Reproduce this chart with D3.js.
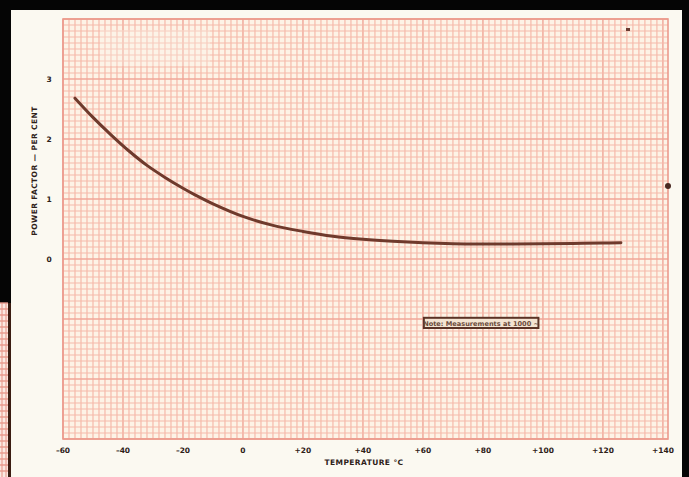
<!DOCTYPE html>
<html>
<head>
<meta charset="utf-8">
<script src="https://cdn.jsdelivr.net/npm/d3@7"></script>
<style>
  html, body { margin: 0; padding: 0; background: #000; }
  svg { display: block; }
  text { font-family: "DejaVu Sans", "Liberation Sans", sans-serif; }
</style>
</head>
<body>
<svg id="chart" width="689" height="477"></svg>
<script>
// ---- data ----
const temperatures = [-56, -50, -44, -38, -32, -26, -20, -16, -10, 0, 10, 20, 30, 40, 50, 60, 70, 80, 90, 100, 110, 120, 126];
const powerFactor  = [2.68, 2.36, 2.07, 1.80, 1.56, 1.36, 1.18, 1.07, 0.92, 0.71, 0.56, 0.46, 0.38, 0.33, 0.295, 0.27, 0.255, 0.25, 0.25, 0.255, 0.26, 0.265, 0.27];
const xTickValues = [-60, -40, -20, 0, 20, 40, 60, 80, 100, 120, 140];
const xTickLabels = ["\u201360", "\u201340", "\u201320", "0", "+20", "+40", "+60", "+80", "+100", "+120", "+140"];
const yTickValues = [0, 1, 2, 3];
const yTickLabels = ["0", "1", "2", "3"];
const xTitle = "TEMPERATURE \u00B0C";
const yTitle = "POWER FACTOR \u2014 PER CENT";
const noteText = "Note: Measurements at 1000 \u223C";

const svg = d3.select("#chart");
const W = 689, H = 477;

// black background + paper
svg.append("rect").attr("width", W).attr("height", H).attr("fill", "#050505");
svg.append("rect").attr("x", 11).attr("y", 10).attr("width", 671).attr("height", 467).attr("fill", "#fbf9f1");

// left strip of another graph sheet
const strip = svg.append("g");
strip.append("rect").attr("x", 0).attr("y", 303).attr("width", 8).attr("height", 174).attr("fill", "#fbe9e2");
d3.range(303, 477, 6).forEach(v => strip.append("line").attr("x1", 0).attr("x2", 8).attr("y1", v).attr("y2", v).attr("stroke", "#e8998c").attr("stroke-width", 1.4));
[2, 6].forEach(v => strip.append("line").attr("x1", v).attr("x2", v).attr("y1", 303).attr("y2", 477).attr("stroke", "#e8998c").attr("stroke-width", 1.1));
strip.append("rect").attr("x", 8).attr("y", 303).attr("width", 3).attr("height", 174).attr("fill", "#3a1d12");

// scales
const x = d3.scaleLinear().domain([-60, 141.7]).range([63, 668]);
const y = d3.scaleLinear().domain([-3, 4]).range([439, 19]);

// grid
const grid = svg.append("g");
grid.append("rect")
  .attr("x", x(-60)).attr("y", y(4))
  .attr("width", x(141.7) - x(-60)).attr("height", y(-3) - y(4))
  .attr("fill", "#fdf3e6");

const xLines = d3.range(0, 101).map(i => ({v: -60 + i * 2, i}));
const yLines = d3.range(0, 71).map(i => ({v: -3 + i * 0.1, i}));
function gStroke(i) { return i % 10 === 0 ? "#f0a799" : "#f6b9aa"; }
function gWidth(i) { return i % 10 === 0 ? 1.45 : 1.2; }

grid.selectAll("line.v").data(xLines).join("line")
  .attr("class", "v")
  .attr("x1", d => x(d.v)).attr("x2", d => x(d.v))
  .attr("y1", y(4)).attr("y2", y(-3))
  .attr("stroke", d => gStroke(d.i)).attr("stroke-width", d => gWidth(d.i));
grid.selectAll("line.h").data(yLines).join("line")
  .attr("class", "h")
  .attr("x1", x(-60)).attr("x2", x(141.7))
  .attr("y1", d => y(d.v)).attr("y2", d => y(d.v))
  .attr("stroke", d => gStroke(d.i)).attr("stroke-width", d => gWidth(d.i));
grid.append("rect")
  .attr("x", x(-60)).attr("y", y(4))
  .attr("width", x(141.7) - x(-60)).attr("height", y(-3) - y(4))
  .attr("fill", "none").attr("stroke", "#eb9a8c").attr("stroke-width", 1.6);

// faded (erased) patch near the top left of the sheet
svg.append("rect").attr("x", 100).attr("y", 30).attr("width", 110).attr("height", 36)
  .attr("fill", "#fdf4ea").attr("opacity", 0.3);

// axis tick labels (no tick marks, as on the printed sheet)
const ink = "#2e2118";
svg.append("g").selectAll("text").data(xTickValues).join("text")
  .attr("x", d => x(d)).attr("y", 453)
  .attr("text-anchor", "middle")
  .attr("font-size", 7.5).attr("font-weight", "bold").attr("fill", ink)
  .text((d, i) => xTickLabels[i]);

svg.append("g").selectAll("text").data(yTickValues).join("text")
  .attr("x", 49).attr("y", d => y(d) + 3)
  .attr("text-anchor", "middle")
  .attr("font-size", 7.5).attr("font-weight", "bold").attr("fill", ink)
  .text((d, i) => yTickLabels[i]);

// axis titles
svg.append("text")
  .attr("x", 364).attr("y", 465)
  .attr("text-anchor", "middle")
  .attr("font-size", 7.5).attr("font-weight", "bold").attr("fill", ink)
  .attr("letter-spacing", 0.4)
  .text(xTitle);

svg.append("text")
  .attr("transform", "translate(37,171) rotate(-90)")
  .attr("text-anchor", "middle")
  .attr("font-size", 7.5).attr("font-weight", "bold").attr("fill", ink)
  .attr("letter-spacing", 0.4)
  .text(yTitle);

// curve
const line = d3.line()
  .x((d, i) => x(d))
  .y((d, i) => y(powerFactor[i]))
  .curve(d3.curveCatmullRom.alpha(0.5));
svg.append("path")
  .attr("d", line(temperatures))
  .attr("fill", "none")
  .attr("stroke", "#6f3a2c")
  .attr("stroke-width", 3)
  .attr("stroke-linecap", "round");

// note box
const nx0 = x(60.3), nx1 = x(98.5), ny0 = y(-0.98), ny1 = y(-1.15);
svg.append("rect")
  .attr("x", nx0).attr("y", ny0)
  .attr("width", nx1 - nx0).attr("height", ny1 - ny0)
  .attr("fill", "#f3e4d2").attr("stroke", "#5a3326").attr("stroke-width", 2);
svg.append("text")
  .attr("x", (nx0 + nx1) / 2).attr("y", ny1 - 2.5)
  .attr("text-anchor", "middle")
  .attr("font-size", 6.6).attr("font-weight", "bold").attr("fill", "#6a4a3a")
  .text(noteText);

// small specks on the sheet
svg.append("rect").attr("x", 626).attr("y", 28).attr("width", 4).attr("height", 3).attr("fill", "#6a3b30");
svg.append("circle").attr("cx", 668).attr("cy", 186).attr("r", 3).attr("fill", "#4a2a22");
</script>
</body>
</html>
